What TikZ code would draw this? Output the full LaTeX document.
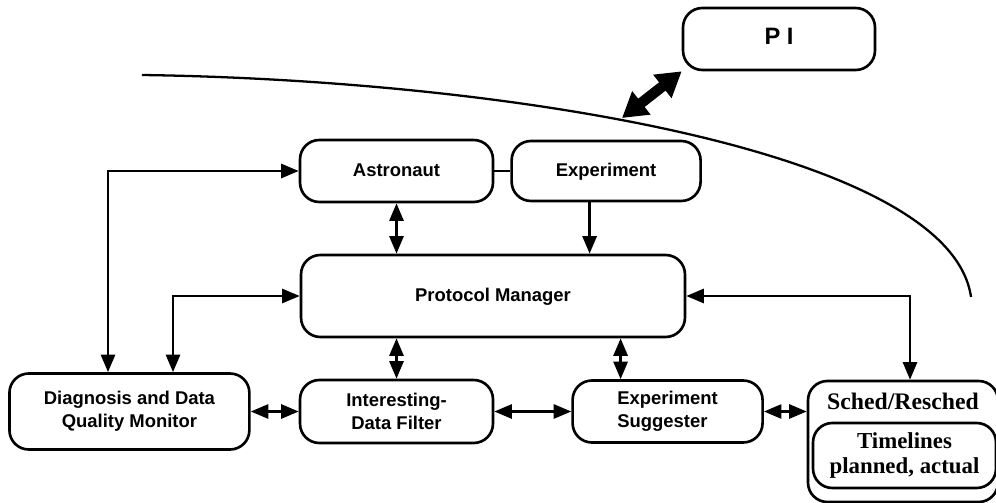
\documentclass[tikz,border=0pt]{standalone}
\usepackage{fontspec}
\setmainfont{Liberation Sans}
\newfontfamily\serifbold{Liberation Serif}
\usetikzlibrary{arrows.meta, positioning, calc}
\tikzset{%
	box/.style={draw, rectangle, rounded corners=11pt, line width=1.5pt, align=center,%
		font=\bfseries\fontsize{10.5}{13}\selectfont, inner sep=0pt},
	oneline/.style={text height=1.6ex, text depth=0.4ex},
	tl/.style={draw, rectangle, rounded corners=11pt, line width=1.5pt, align=center,%
		font=\serifbold\bfseries\fontsize{13}{14.5}\selectfont, inner sep=0pt},
	link/.style={line width=1.5pt},
	sel/.style={-{Triangle[length=10pt,width=8pt]}, line width=1.5pt},
	both/.style={{Triangle[length=10pt,width=8pt]}-{Triangle[length=10pt,width=8pt]}, line width=1.5pt},
	big/.style={{Triangle[length=14pt,width=16pt]}-{Triangle[length=14pt,width=16pt]}, line width=6pt},
	horizon/.style={line width=1.3pt}
}
\begin{document}
\begin{tikzpicture}[x=0.02cm, y=-0.02cm]
	\useasboundingbox (0,0) rectangle (996,503);
	\node[box, oneline, minimum width=3.84cm, minimum height=1.24cm, font=\bfseries\fontsize{13.5}{15}\selectfont] (pi) at (779,39) {P I};
	\node[box, oneline, minimum width=3.86cm, minimum height=1.24cm] (astro) at (396.5,171) {Astronaut};
	\node[box, oneline, minimum width=3.78cm, minimum height=1.2cm, right=0.32cm of astro] (expt) {Experiment};
	\node[box, oneline, minimum width=7.68cm, minimum height=1.64cm] (pm) at (493,296) {Protocol Manager};
	\node[box, minimum width=3.86cm, minimum height=1.26cm] (filter) at (396.5,411.5) {Interesting-\\Data Filter};
	\node[box, minimum width=4.8cm, minimum height=1.52cm, left=0.96cm of filter] (diag) {Diagnosis and Data\\Quality Monitor};
	\node[box, minimum width=3.8cm, minimum height=1.24cm, right=1.54cm of filter, align=left] (sugg) {Experiment\\Suggester};
	\node[tl, minimum width=3.8cm, minimum height=2.42cm] (sched) at (903,441.5) {};
	\node[font=\serifbold\bfseries\fontsize{13.5}{15}\selectfont, anchor=north, inner sep=0pt] (schedtitle) at ([yshift=-0.26cm]sched.north) {Sched/Resched};
	\node[tl, minimum width=3.66cm, minimum height=1.3cm] (timelines) at (904.5,455.5) {Timelines\\planned, actual};

	\coordinate (lx1) at (108,0);
	\coordinate (lx2) at (173,0);
	\coordinate (lx3) at (910,0);
	\coordinate (ex) at ([xshift=-0.33cm]expt.south);
	\coordinate (sx) at ([xshift=-0.94cm]sugg.north);
	\draw[link] (astro) -- (expt);
	\draw[both] (astro.west) -| (lx1 |- diag.north);
	\draw[both] (pm.west) -| (lx2 |- diag.north);
	\draw[both] (astro.south) -- (astro.south |- pm.north);
	\draw[sel] (ex) -- (ex |- pm.north);
	\draw[both] (pm.south -| filter.north) -- (filter.north);
	\draw[both] (pm.south -| sx) -- (sx);
	\draw[both] (pm.east) -| (lx3 |- sched.north);
	\draw[both] (diag) -- (filter);
	\draw[both] (filter) -- (sugg);
	\draw[both] (sugg.east) -- (sugg.east -| sched.west);

	% horizon and link to PI
	\coordinate (h0) at (142,75);
	\coordinate (h1) at (500,80);
	\coordinate (h2) at (950,150);
	\coordinate (h3) at (971,297);
	\draw[horizon] (h0) .. controls (h1) and (h2) .. (h3);
	\coordinate (pe) at (622,118);
	\draw[big] (pe) -- (pi.south west);
\end{tikzpicture}
\end{document}
